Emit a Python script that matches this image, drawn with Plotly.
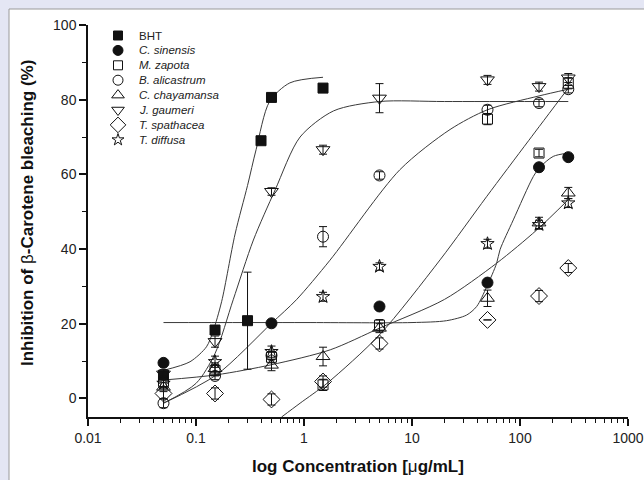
import plotly.graph_objects as go

# ---------------- data ----------------
conc = [0.05, 0.15, 0.5, 1.5, 5, 50, 150, 280]

bht_x = [0.05, 0.15, 0.3, 0.4, 0.5, 1.5]
bht_y = [6.2, 18.3, 20.8, 69.0, 80.6, 83.1]
bht_err = [0.5, 0.5, 13.0, 0.5, 0.5, 0.5]

sinensis_x = [0.05, 0.5, 5, 50, 150, 280]
sinensis_y = [9.5, 20.1, 24.6, 31.0, 61.9, 64.6]
sinensis_err = [0.5, 0.5, 0.5, 0.5, 0.5, 0.5]

zapota_y = [4.5, 7.5, 11.0, 3.6, 19.6, 74.8, 65.7, 84.4]
zapota_err = [1.5, 1.5, 1.5, 1.5, 1.5, 1.5, 1.0, 1.5]
alicastrum_y = [-1.3, 6.0, 11.5, 43.3, 59.7, 77.3, 79.1, 82.8]
alicastrum_err = [1.2, 1.0, 1.0, 2.7, 1.0, 1.2, 1.0, 1.0]
chayamansa_y = [3.0, 8.0, 8.9, 11.2, 18.8, 26.8, 47.0, 55.0]
chayamansa_err = [1.2, 1.5, 1.5, 2.5, 1.2, 2.2, 1.5, 1.5]
gaumeri_y = [6.5, 15.2, 55.4, 66.6, 80.4, 85.3, 83.5, 85.8]
gaumeri_err = [1.2, 1.5, 1.0, 1.2, 3.9, 1.2, 1.2, 1.2]
spathacea_y = [1.3, 1.3, -0.3, 4.5, 14.7, 21.0, 27.4, 34.9]
spathacea_err = [1.5, 1.5, 1.5, 1.5, 1.5, 0.0, 1.5, 1.2]
diffusa_y = [4.0, 9.8, 12.5, 27.2, 35.3, 41.4, 46.5, 52.3]
diffusa_err = [1.5, 1.5, 1.5, 1.2, 1.0, 1.2, 1.2, 1.2]

# fitted curves, points
fit_bht_x = [0.05, 0.088, 0.125, 0.144, 0.173, 0.23, 0.3, 0.36, 0.48, 0.74, 1.5]
fit_bht_y = [7.5, 9.8, 13.8, 18.0, 26.0, 44.0, 57.0, 66.6, 79.5, 84.5, 86.0]
fit_sin_x = [0.05, 1, 10, 20.9, 32, 39.7, 49.2, 60.8, 65.3, 86.7, 132.8, 153, 203, 280]
fit_sin_y = [20.3, 20.3, 20.3, 20.8, 22.3, 24.6, 29.9, 36.2, 39.8, 47.8, 59.4, 61.9, 64.8, 65.7]
fit_gau_x = [0.05, 0.1, 0.15, 0.221, 0.34, 0.54, 0.92, 1.88, 5, 20, 280]
fit_gau_y = [-1.3, 4.0, 12.0, 26.4, 42.4, 55.8, 70.0, 77.0, 79.5, 79.5, 79.5]
fit_ali_x = [0.05, 0.155, 0.5, 0.85, 1.74, 7.7, 22.5, 50, 150, 280]
fit_ali_y = [-1.3, 6.3, 20.1, 26.4, 37.0, 61.2, 72.0, 77.3, 81.0, 82.8]
fit_cha_x = [0.05, 0.155, 0.5, 1.75, 5, 20, 60.8, 143, 280]
fit_cha_y = [4.9, 6.3, 9.0, 13.0, 18.8, 26.5, 36.2, 45.1, 53.2]
fit_zap_x = [0.62, 0.92, 1.63, 5, 18.2, 49, 120, 280]
fit_zap_y = [-5.0, -1.3, 4.0, 17.0, 37.1, 54.0, 69.0, 83.1]

x_tickvals = [0.01, 0.1, 1, 10, 100, 1000]
x_ticktext = ["0.01", "0.1", "1", "10", "100", "1000"]
y_tickvals = [0, 20, 40, 60, 80, 100]
y_minor = [10, 30, 50, 70, 90]
x_minor = [m * d for d in [0.01, 0.1, 1, 10, 100] for m in range(2, 10)]

legend_names = ["BHT", "<i>C. sinensis</i>", "<i>M. zapota</i>", "<i>B. alicastrum</i>",
                "<i>C. chayamansa</i>", "<i>J. gaumeri</i>", "<i>T. spathacea</i>", "<i>T. diffusa</i>"]

# ---------------- layout geometry ----------------
W, H = 644, 480
ML, MR, MT, MB = 88, 16, 25, 63
PW, PH = W - ML - MR, H - MT - MB

INK = "#111111"
CURVE = "#3a3a3a"
FONT = "Liberation Sans, Arial"

fig = go.Figure()

def add_fit(xs, ys):
    fig.add_trace(go.Scatter(x=xs, y=ys, mode="lines",
                             line=dict(color=CURVE, width=1, shape="spline", smoothing=0.8),
                             hoverinfo="skip", showlegend=False, cliponaxis=True))

for fx, fy in [(fit_bht_x, fit_bht_y), (fit_sin_x, fit_sin_y), (fit_gau_x, fit_gau_y),
               (fit_ali_x, fit_ali_y), (fit_cha_x, fit_cha_y), (fit_zap_x, fit_zap_y)]:
    add_fit(fx, fy)

series = [
    ("BHT", bht_x, bht_y, bht_err, "square", 10),
    ("C. sinensis", sinensis_x, sinensis_y, sinensis_err, "circle", 11),
    ("M. zapota", conc, zapota_y, zapota_err, "square-open", 10),
    ("B. alicastrum", conc, alicastrum_y, alicastrum_err, "circle-open", 11),
    ("C. chayamansa", conc, chayamansa_y, chayamansa_err, "triangle-up-open", 12),
    ("J. gaumeri", conc, gaumeri_y, gaumeri_err, "triangle-down-open", 12),
    ("T. spathacea", conc, spathacea_y, spathacea_err, "diamond-open", 13),
    ("T. diffusa", conc, diffusa_y, diffusa_err, "star-open", 10),
]

for name, xs, ys, errs, sym, size in series:
    fig.add_trace(go.Scatter(
        x=xs, y=ys, mode="markers", name=name, showlegend=False,
        marker=dict(symbol=sym, size=size, color=INK, line=dict(color=INK, width=1)),
        error_y=dict(type="data", array=errs, visible=True, color=INK, thickness=1, width=4),
        cliponaxis=False))

# manual legend (compact spacing like the reference) on an overlay pixel axis
LEG_SYM_X, LEG_TXT_X, LEG_Y0, LEG_DY = 118 - ML, 137 - ML, 35.5 - MT, 14.9
for i, (name, _, _, _, sym, size) in enumerate(series):
    fig.add_trace(go.Scatter(
        x=[LEG_SYM_X], y=[LEG_Y0 + i * LEG_DY], xaxis="x2", yaxis="y2", mode="markers",
        marker=dict(symbol=sym, size=size - 1, color=INK, line=dict(color=INK, width=1)),
        showlegend=False, hoverinfo="skip"))
    fig.add_annotation(x=LEG_TXT_X, y=LEG_Y0 + i * LEG_DY, xref="x2", yref="y2",
                       text=legend_names[i], showarrow=False, xanchor="left", yanchor="middle",
                       font=dict(family=FONT, size=11.5, color="#222222"))

axis_font = dict(family=FONT, size=14, color="#222222")

fig.update_layout(
    width=W, height=H,
    margin=dict(l=ML, r=MR, t=MT, b=MB, autoexpand=False),
    paper_bgcolor="#E4E6F4", plot_bgcolor="white",
    showlegend=False,
    xaxis=dict(type="log", range=[-2, 3], tickmode="array", tickvals=x_tickvals, ticktext=x_ticktext,
               ticks="outside", ticklen=7, tickwidth=1.5, tickcolor=INK, automargin=False,
               showline=True, linecolor=INK, linewidth=1.5, showgrid=False, zeroline=False,
               tickfont=axis_font,
               minor=dict(tickmode="array", tickvals=x_minor, ticks="outside", ticklen=4,
                          tickwidth=1.2, tickcolor=INK, showgrid=False)),
    yaxis=dict(range=[-5, 100], tickmode="array", tickvals=y_tickvals,
               ticks="outside", ticklen=7, tickwidth=1.5, tickcolor=INK, automargin=False,
               showline=True, linecolor=INK, linewidth=1.5, showgrid=False, zeroline=False,
               tickfont=axis_font,
               minor=dict(tickmode="array", tickvals=y_minor, ticks="outside", ticklen=4,
                          tickwidth=1.2, tickcolor=INK, showgrid=False)),
    xaxis2=dict(range=[0, PW], overlaying="x", anchor="y2", visible=False, fixedrange=True),
    yaxis2=dict(range=[PH, 0], overlaying="y", anchor="x2", visible=False, fixedrange=True),
    shapes=[dict(type="rect", xref="paper", yref="paper",
                 x0=(9 - ML) / PW, x1=(W + 20 - ML) / PW,
                 y0=(MT + PH - (H + 20)) / PH, y1=(MT + PH - 9) / PH,
                 fillcolor="white", line=dict(color="#9a9a9a", width=1), layer="below")],
)

fig.add_annotation(text="<b>Inhibition of </b>β<b>-Carotene bleaching (%)</b>",
                   xref="paper", yref="paper", x=(27 - ML) / PW, y=(MT + PH - 213) / PH,
                   textangle=-90, showarrow=False, xanchor="center", yanchor="middle",
                   font=dict(family=FONT, size=17, color="#111111"))
fig.add_annotation(text="<b>log Concentration [</b>μ<b>g/mL]</b>",
                   xref="paper", yref="paper", x=0.5, y=(MT + PH - 466) / PH,
                   showarrow=False, xanchor="center", yanchor="middle",
                   font=dict(family=FONT, size=17, color="#111111"))

fig.write_html("out.html")
